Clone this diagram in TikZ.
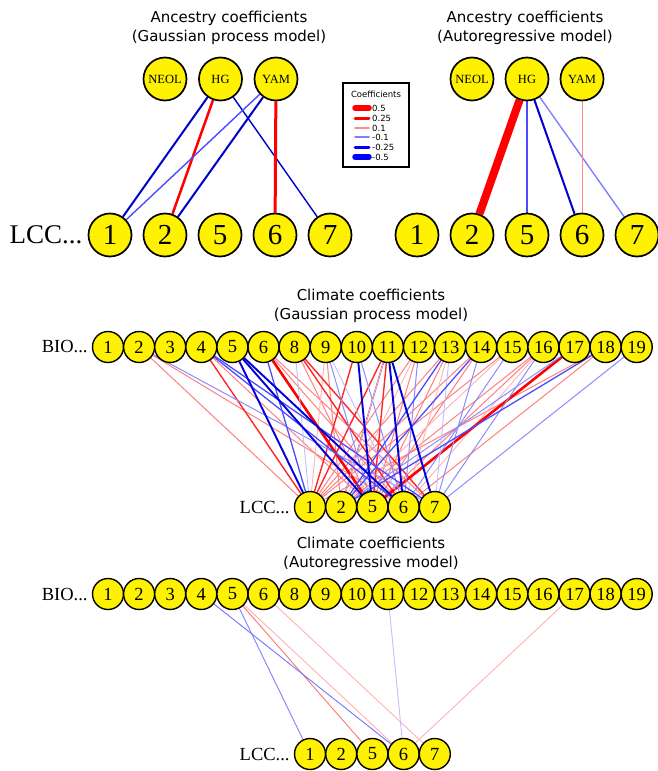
\documentclass[tikz,border=0pt]{standalone}
\usepackage{fontspec}
\setmainfont{Liberation Serif}
\newfontfamily\titlefont{DejaVu Sans}
\usetikzlibrary{positioning,backgrounds}

\tikzset{
  bignode/.style={circle,draw,line width=1.7pt,fill=yellow,minimum size=43pt,inner sep=0pt,font=\fontsize{29}{29}\selectfont},
  ancnode/.style={bignode,font=\fontsize{12.5}{12.5}\selectfont},
  smallnode/.style={circle,draw,line width=1.4pt,fill=yellow,minimum size=31pt,inner sep=0pt,font=\fontsize{18.5}{18.5}\selectfont},
  headtext/.style={align=center,font=\titlefont\fontsize{15}{19}\selectfont},
  rowtext/.style={inner sep=0pt,font=\fontsize{18.5}{18.5}\selectfont},
  redfaint/.style={red!30,line width=0.9pt},
  redlo/.style={red!50,line width=1pt},
  redmid/.style={red!85,line width=1.4pt},
  redhi/.style={red,line width=2.6pt},
  bluefaint/.style={blue!25,line width=0.9pt},
  bluelo/.style={blue!45,line width=1pt},
  bluemid/.style={blue!70,line width=1.3pt},
  bluehi/.style={blue!85!black,line width=1.9pt}
}

\begin{document}
\begin{tikzpicture}[x=1pt,y=-1pt]
\useasboundingbox (0,0) rectangle (658,771);

\path (229,27.5) node[headtext] (gtitle) {Ancestry coefficients\\(Gaussian process model)};
\path (525,27.5) node[headtext] (atitle) {Ancestry coefficients\\(Autoregressive model)};
\path (371,306) node[headtext] (gctitle) {Climate coefficients\\(Gaussian process model)};
\path (371,554) node[headtext] (actitle) {Climate coefficients\\(Autoregressive model)};

\foreach \a/\n [count=\i from 0] in {neol/NEOL,hg/HG,yam/YAM} {
  \path (165+55.5*\i,79) node[ancnode] (g\a) {\n};
  \path (472+55*\i,79) node[ancnode] (a\a) {\n};
}
\foreach \c [count=\i from 0] in {1,2,5,6,7} {
  \path (110+55*\i,235) node[bignode] (gc\c) {\c};
  \path (417+55*\i,235) node[bignode] (ac\c) {\c};
  \path (310+31.2*\i,507) node[smallnode] (glcc\c) {\c};
  \path (310+31.2*\i,754) node[smallnode] (alcc\c) {\c};
}
\foreach \b [count=\i from 0] in {1,2,3,4,5,6,8,9,10,11,12,13,14,15,16,17,18,19} {
  \path (108+31.1*\i,347) node[smallnode] (gbio\b) {\b};
  \path (108+31.1*\i,594) node[smallnode] (abio\b) {\b};
}

\node[rowtext,font=\fontsize{27}{27}\selectfont,left=5pt of gc1] (gclab) {LCC...};
\node[rowtext,left=4pt of gbio1] (gbiolab) {BIO...};
\node[rowtext,left=4pt of glcc1] (glcclab) {LCC...};
\node[rowtext,left=4pt of abio1] (abiolab) {BIO...};
\node[rowtext,left=4pt of alcc1] (alcclab) {LCC...};

\draw[line width=1.5pt] (343,83) rectangle (409,167);
\path (376,94) node[font=\titlefont\fontsize{8.5}{8.5}\selectfont] (legtitle) {Coefficients};
\foreach \y/\c/\w/\v in {108/red/5.5/0.5,118/red/3/0.25,128/red!45/1.5/0.1,137/blue!50/1.5/-0.1,147/blue/3/-0.25,157/blue/5.5/-0.5} {
  \draw[draw=\c,line width=\w pt,line cap=round] (355,\y) -- (369,\y);
  \path (372,\y) node[anchor=west,inner sep=0pt,font=\titlefont\fontsize{8.5}{8.5}\selectfont] {\v};
}

\begin{scope}[on background layer]
\draw[blue!80!black,line width=2pt] (ghg) -- (gc1);
\draw[red,line width=2.5pt] (ghg) -- (gc2);
\draw[blue!80!black,line width=1.4pt] (ghg) -- (gc7);
\draw[blue!70,line width=1.4pt] (gyam) -- (gc1);
\draw[blue!80!black,line width=2pt] (gyam) -- (gc2);
\draw[red,line width=3pt] (gyam) -- (gc6);

\draw[red,line width=8pt] (ahg) -- (ac2);
\draw[blue!70,line width=1.2pt] (ahg) -- (ac5);
\draw[blue!80!black,line width=2pt] (ahg) -- (ac6);
\draw[blue!50,line width=1.4pt] (ahg) -- (ac7);
\draw[red!45,line width=1pt] (ayam) -- (ac6);

\foreach \s/\t in {2/1,2/6,4/5,6/6,6/7,8/5,9/2,12/1,12/5,13/1,13/5,14/1,14/5,15/1,16/2,16/5,18/6,18/1}
  \draw[redlo] (gbio\s) -- (glcc\t);
\foreach \s/\t in {9/1,12/2,13/6,15/2,16/6}
  \draw[redfaint] (gbio\s) -- (glcc\t);
\foreach \s/\t in {4/1,8/6,8/7,10/1,11/1,11/2,11/5}
  \draw[redmid] (gbio\s) -- (glcc\t);
\foreach \s/\t in {6/5,17/5}
  \draw[redhi] (gbio\s) -- (glcc\t);
\foreach \s/\t in {9/5,10/6,12/6,15/6,16/7,17/2,19/7,2/7,14/7}
  \draw[bluelo] (gbio\s) -- (glcc\t);
\foreach \s/\t in {8/1,9/6,11/2,13/7}
  \draw[bluefaint] (gbio\s) -- (glcc\t);
\foreach \s/\t in {6/1,4/6,4/7,13/2,14/2,18/2}
  \draw[bluemid] (gbio\s) -- (glcc\t);
\foreach \s/\t in {5/1,5/5,5/6,10/5,11/6,11/7}
  \draw[bluehi] (gbio\s) -- (glcc\t);

\foreach \s/\t in {5/6,6/7,17/6}
  \draw[redfaint] (abio\s) -- (alcc\t);
\draw[red!55,line width=0.9pt] (abio5) -- (alcc5);
\draw[blue!50,line width=0.9pt] (abio5) -- (alcc1);
\draw[blue!55,line width=0.9pt] (abio4) -- (alcc6);
\draw[bluefaint] (abio11) -- (alcc6);
\end{scope}
\end{tikzpicture}
\end{document}
